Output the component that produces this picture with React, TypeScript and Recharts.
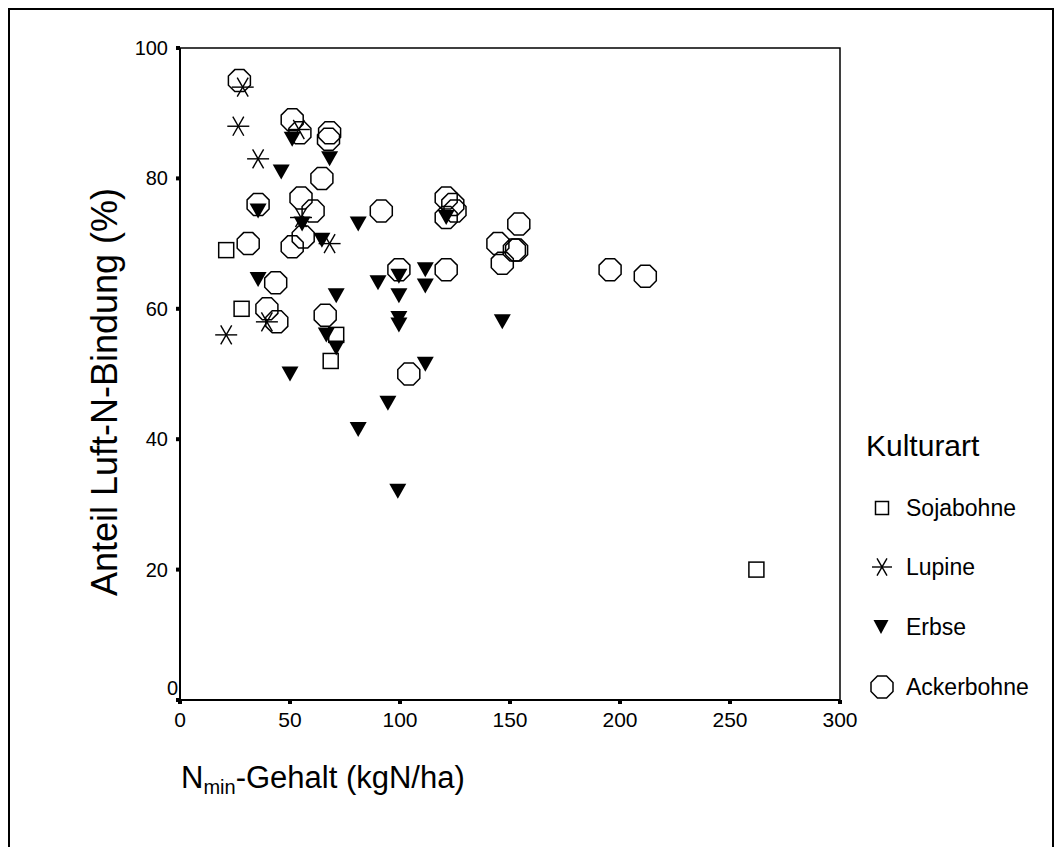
import React from "react";
import {
  ScatterChart,
  Scatter,
  XAxis,
  YAxis,
  ReferenceArea,
} from "recharts";

// N-min content (kgN/ha) and share of atmospheric N fixation (%) per crop
const sojabohneNmin = [21, 28, 71, 68.5, 262];
const sojabohneAnteil = [69, 60, 56, 52, 20];

const lupineNmin = [28.5, 26.5, 35.5, 54, 55, 68, 39.5, 21];
const lupineAnteil = [94, 88, 83, 87.5, 74, 70, 58, 56];

const erbseNmin = [
  51, 68, 46, 35.5, 55.5, 64.5, 81, 35.5, 71, 66.5, 71, 50, 99.5, 99.5, 99.5,
  111.5, 94.5, 81, 99, 99.5, 90, 111.5, 111.5, 121, 146.5,
];
const erbseAnteil = [
  86, 83, 81, 75, 73, 70.5, 73, 64.5, 62, 56, 54, 50, 62, 58.5, 57.5, 51.5,
  45.5, 41.5, 32, 65, 64, 66, 63.5, 74, 58,
];

const ackerbohneNmin = [
  27, 51, 54.5, 68, 67.5, 64.5, 35.5, 55, 60.5, 56, 51, 31, 43.5, 39.5, 44, 66,
  91.5, 121, 124, 125, 121, 99.5, 121, 104, 154, 144.5, 152, 153, 146.5, 195.5,
  211.5,
];
const ackerbohneAnteil = [
  95, 89, 87, 87, 86, 80, 76, 77, 75, 71, 69.5, 70, 64, 60, 58, 59, 75, 77, 76,
  75, 74, 66, 66, 50, 73, 70, 69, 69, 67, 66, 65,
];

const xTicks = [0, 50, 100, 150, 200, 250, 300];
const yTicks = [0, 20, 40, 60, 80, 100];

const kulturen = ["Sojabohne", "Lupine", "Erbse", "Ackerbohne"];

const zip = (xs: number[], ys: number[]) =>
  xs.map((x, i) => ({ nmin: x, anteil: ys[i] }));

const sojabohne = zip(sojabohneNmin, sojabohneAnteil);
const lupine = zip(lupineNmin, lupineAnteil);
const erbse = zip(erbseNmin, erbseAnteil);
const ackerbohne = zip(ackerbohneNmin, ackerbohneAnteil);

const FONT = "Arial, 'Liberation Sans', Helvetica, sans-serif";

// marker glyphs
const SquareMark = ({ cx, cy, s = 15 }: any) => (
  <rect
    x={cx - s / 2}
    y={cy - s / 2}
    width={s}
    height={s}
    fill="none"
    stroke="#000"
    strokeWidth={1.5}
  />
);

const StarMark = ({ cx, cy, s = 22 }: any) => {
  const h = s / 2;
  const dx = h * Math.cos(Math.PI / 3);
  const dy = h * Math.sin(Math.PI / 3);
  return (
    <g stroke="#000" strokeWidth={1.4}>
      <line x1={cx - h} y1={cy} x2={cx + h} y2={cy} />
      <line x1={cx - dx} y1={cy - dy} x2={cx + dx} y2={cy + dy} />
      <line x1={cx - dx} y1={cy + dy} x2={cx + dx} y2={cy - dy} />
    </g>
  );
};

const TriangleMark = ({ cx, cy, w = 17, h = 15 }: any) => (
  <polygon
    points={`${cx - w / 2},${cy - h / 2} ${cx + w / 2},${cy - h / 2} ${cx},${cy + h / 2}`}
    fill="#000"
  />
);

const OctagonMark = ({ cx, cy, d = 22 }: any) => {
  const R = d / 2 / Math.cos(Math.PI / 8);
  const pts = Array.from({ length: 8 }, (_, k) => {
    const a = Math.PI / 8 + (k * Math.PI) / 4;
    return `${cx + R * Math.cos(a)},${cy + R * Math.sin(a)}`;
  }).join(" ");
  return <polygon points={pts} fill="none" stroke="#000" strokeWidth={1.5} />;
};

const YTick = ({ x, y, payload }: any) => {
  const zero = payload.value === 0;
  return (
    <g>
      <rect x={x - 4} y={y - 2} width={4} height={4} fill="#000" />
      <text
        x={zero ? x - 2 : x - 12}
        y={zero ? y - 12 : y}
        dy="0.35em"
        textAnchor="end"
        fontFamily={FONT}
        fontSize={20}
        fill="#000"
      >
        {payload.value}
      </text>
    </g>
  );
};

const XTick = ({ x, y, payload }: any) => (
  <g>
    <rect x={x - 2} y={y} width={4} height={4} fill="#000" />
    <text
      x={x}
      y={y + 20}
      dy="0.35em"
      textAnchor="middle"
      fontFamily={FONT}
      fontSize={21}
      fill="#000"
    >
      {payload.value}
    </text>
  </g>
);

// legend drawn in the figure's own coordinates
const LegendBox = () => {
  const rows = [508, 567, 627, 687];
  return (
    <svg
      width={212}
      height={300}
      style={{ position: "absolute", left: 842, top: 412, overflow: "visible" }}
    >
      <g transform="translate(-850,-420)" fontFamily={FONT} fill="#000">
        <text x={866} y={445} dy="0.35em" fontSize={30}>
          Kulturart
        </text>
        <SquareMark cx={882} cy={rows[0]} s={13} />
        <StarMark cx={882} cy={rows[1]} s={20} />
        <TriangleMark cx={881} cy={rows[2]} w={15} h={14} />
        <OctagonMark cx={882} cy={rows[3]} d={22} />
        {kulturen.map((k, i) => (
          <text key={k} x={906} y={rows[i]} dy="0.35em" fontSize={23}>
            {k}
          </text>
        ))}
      </g>
    </svg>
  );
};

const YTitle = () => (
  <text
    transform="translate(96,384) rotate(-90)"
    textAnchor="middle"
    dy="0.35em"
    fontFamily={FONT}
    fontSize={36}
    fill="#000"
  >
    Anteil Luft-N-Bindung (%)
  </text>
);

const XTitle = () => (
  <text x={173} y={780} fontFamily={FONT} fontSize={31} fill="#000">
    <tspan>N</tspan>
    <tspan fontSize={20} dy={6}>
      min
    </tspan>
    <tspan dy={-6}>-Gehalt (kgN/ha)</tspan>
  </text>
);

export default function App() {
  return (
    <div style={{ position: "relative", width: 1046, height: 839 }}>
      <div
        style={{
          position: "absolute",
          left: 0,
          top: 0,
          width: 1046,
          height: 839,
          boxSizing: "border-box",
          borderLeft: "2px solid #000",
          borderTop: "2px solid #000",
          borderRight: "2px solid #000",
        }}
      />
      <div style={{ position: "absolute", left: 0, top: 0 }}>
        <ScatterChart
          width={1046}
          height={839}
          margin={{ top: 40, right: 214, bottom: 87, left: 112 }}
        >
          <XAxis
            type="number"
            dataKey="nmin"
            domain={[0, 300]}
            ticks={xTicks}
            interval={0}
            tickLine={false}
            tickSize={0}
            tickMargin={0}
            axisLine={{ stroke: "#000", strokeWidth: 2 }}
            tick={<XTick />}
            height={60}
            label={{ content: () => <XTitle /> }}
          />
          <YAxis
            type="number"
            dataKey="anteil"
            domain={[0, 100]}
            ticks={yTicks}
            interval={0}
            tickLine={false}
            tickSize={0}
            tickMargin={0}
            axisLine={{ stroke: "#000", strokeWidth: 2 }}
            tick={<YTick />}
            width={60}
            label={{ content: () => <YTitle /> }}
          />
          <ReferenceArea
            x1={0}
            x2={300}
            y1={0}
            y2={100}
            fill="none"
            stroke="#000"
            strokeWidth={1.5}
            ifOverflow="visible"
          />
          <Scatter
            name="Sojabohne"
            data={sojabohne}
            isAnimationActive={false}
            shape={(p: any) => <SquareMark cx={p.cx} cy={p.cy} />}
          />
          <Scatter
            name="Lupine"
            data={lupine}
            isAnimationActive={false}
            shape={(p: any) => <StarMark cx={p.cx} cy={p.cy} />}
          />
          <Scatter
            name="Erbse"
            data={erbse}
            isAnimationActive={false}
            shape={(p: any) => <TriangleMark cx={p.cx} cy={p.cy} />}
          />
          <Scatter
            name="Ackerbohne"
            data={ackerbohne}
            isAnimationActive={false}
            shape={(p: any) => <OctagonMark cx={p.cx} cy={p.cy} />}
          />
        </ScatterChart>
      </div>
      <LegendBox />
    </div>
  );
}
